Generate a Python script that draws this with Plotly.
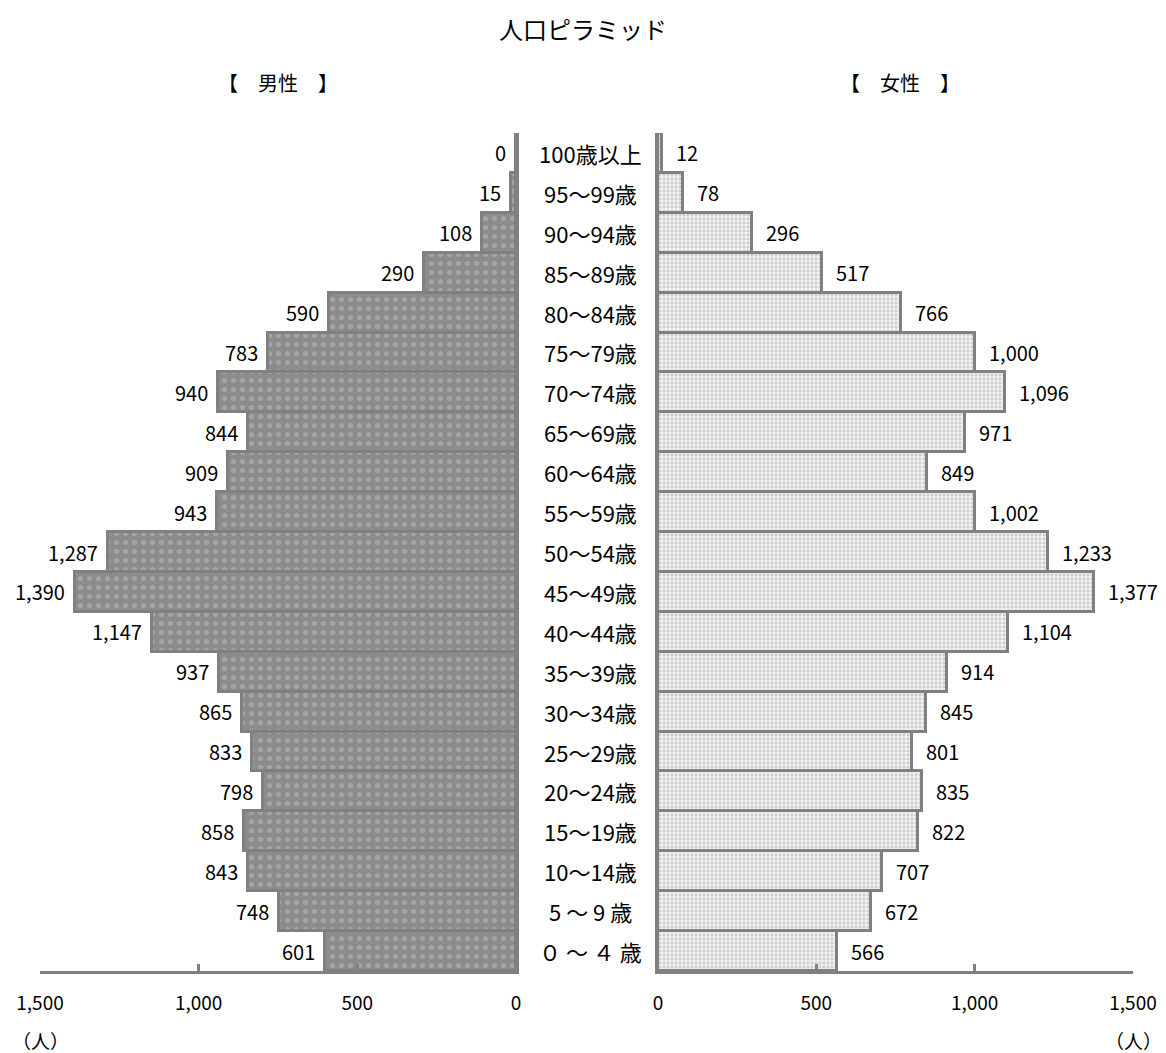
import plotly.graph_objects as go

categories = ["100歳以上", "95～99歳", "90～94歳", "85～89歳", "80～84歳", "75～79歳",
              "70～74歳", "65～69歳", "60～64歳", "55～59歳", "50～54歳", "45～49歳",
              "40～44歳", "35～39歳", "30～34歳", "25～29歳", "20～24歳", "15～19歳",
              "10～14歳", "5 ～ 9 歳", "０ ～ ４ 歳"]
male = [0, 15, 108, 290, 590, 783, 940, 844, 909, 943, 1287, 1390, 1147, 937, 865, 833, 798, 858, 843, 748, 601]
female = [12, 78, 296, 517, 766, 1000, 1096, 971, 849, 1002, 1233, 1377, 1104, 914, 845, 801, 835, 822, 707, 672, 566]
tick_vals = [0, 500, 1000, 1500]

W, H = 1166, 1053
FONT = "Noto Sans CJK JP"
GRAY = "#808080"

def px(v, total):
    return v / total

fig = go.Figure()
fig.add_trace(go.Bar(
    y=categories, x=male, orientation="h", xaxis="x", yaxis="y",
    marker=dict(color="#8c8c8c", line=dict(color=GRAY, width=3),
                pattern=dict(shape=".", bgcolor="#8c8c8c", fgcolor="#bdbdbd", size=9, solidity=0.25)),
    showlegend=False, hoverinfo="x+y"))
fig.add_trace(go.Bar(
    y=categories, x=female, orientation="h", xaxis="x2", yaxis="y2",
    marker=dict(color="#efefef", line=dict(color=GRAY, width=3),
                pattern=dict(shape=".", bgcolor="#f0f0f0", fgcolor="#a8a8a8", size=4, solidity=0.4)),
    showlegend=False, hoverinfo="x+y"))

annotations = []
for c, m, f in zip(categories, male, female):
    annotations.append(dict(x=m, y=c, xref="x", yref="y", text=f"{m:,}", showarrow=False,
                            xanchor="right", xshift=-8, font=dict(size=20, color="black", family=FONT)))
    annotations.append(dict(x=f, y=c, xref="x2", yref="y2", text=f"{f:,}", showarrow=False,
                            xanchor="left", xshift=12, font=dict(size=20, color="black", family=FONT)))
    annotations.append(dict(x=px(590, W), y=c, xref="paper", yref="y", text=c, showarrow=False,
                            xanchor="center", font=dict(size=22, color="black", family=FONT)))

annotations += [
    dict(x=px(583, W), y=1 - 28 / H, xref="paper", yref="paper", text="人口ピラミッド", showarrow=False,
         xanchor="center", yanchor="middle", font=dict(size=24, color="black", family=FONT)),
    dict(x=px(278, W), y=1 - 83 / H, xref="paper", yref="paper", text="【　男性　】", showarrow=False,
         xanchor="center", yanchor="middle", font=dict(size=20, color="black", family=FONT)),
    dict(x=px(900, W), y=1 - 83 / H, xref="paper", yref="paper", text="【　女性　】", showarrow=False,
         xanchor="center", yanchor="middle", font=dict(size=20, color="black", family=FONT)),
    dict(x=px(40, W), y=1 - 1040 / H, xref="paper", yref="paper", text="（人）", showarrow=False,
         xanchor="center", yanchor="middle", font=dict(size=19, color="black", family=FONT)),
    dict(x=px(1133, W), y=1 - 1040 / H, xref="paper", yref="paper", text="（人）", showarrow=False,
         xanchor="center", yanchor="middle", font=dict(size=19, color="black", family=FONT)),
]

ydom = [1 - 971 / H, 1 - 133 / H]
axis_common = dict(showline=True, linecolor=GRAY, linewidth=3, showgrid=False, zeroline=False,
                   ticks="inside", ticklen=7, tickwidth=3, tickcolor=GRAY, automargin=False,
                   tickvals=tick_vals, tickformat=",", ticklabelstandoff=13,
                   tickfont=dict(size=19, color="black", family=FONT))
yaxis_common = dict(showline=True, linecolor=GRAY, linewidth=3, automargin=False,
                    showticklabels=False, ticks="", showgrid=False, zeroline=False,
                    autorange="reversed", type="category", categoryorder="array",
                    categoryarray=categories)

fig.update_layout(
    width=W, height=H, margin=dict(l=0, r=0, t=0, b=0, autoexpand=False),
    paper_bgcolor="white", plot_bgcolor="white",
    bargap=0.0,
    font=dict(family=FONT, color="black"),
    xaxis=dict(domain=[px(40, W), px(516, W)], anchor="y", range=[1500, 0], **axis_common),
    xaxis2=dict(domain=[px(658, W), px(1133, W)], anchor="y2", range=[0, 1500], **axis_common),
    yaxis=dict(domain=ydom, anchor="x", side="right", **yaxis_common),
    yaxis2=dict(domain=ydom, anchor="x2", side="left", **yaxis_common),
    annotations=annotations,
)

fig.write_html("out.html")
